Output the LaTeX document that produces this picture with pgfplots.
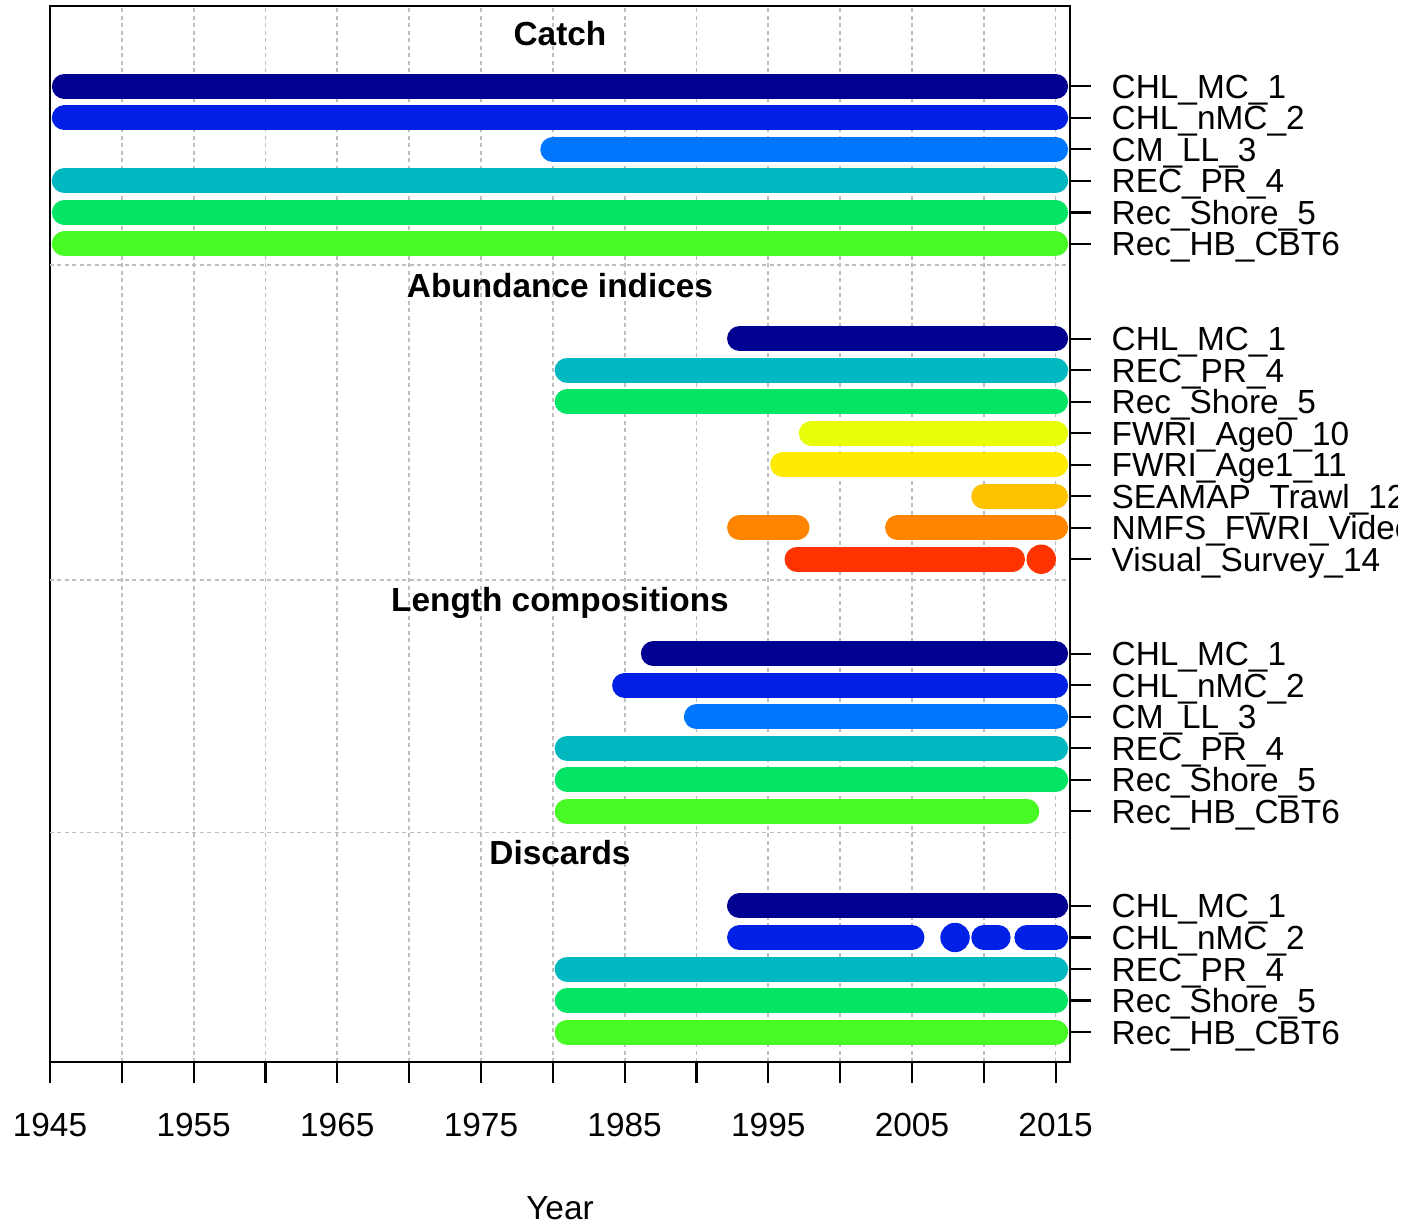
\documentclass[border=0pt]{standalone}
\usepackage{fontspec}
\setmainfont{Liberation Sans}
\usepackage{pgfplots}
\pgfplotsset{compat=1.18}

% fleet colours (rich colours)
\definecolor{c1}{RGB}{0,0,145}
\definecolor{c2}{RGB}{0,32,230}
\definecolor{c3}{RGB}{0,118,252}
\definecolor{c4}{RGB}{0,184,191}
\definecolor{c5}{RGB}{4,228,101}
\definecolor{c6}{RGB}{73,251,37}
\definecolor{c7}{RGB}{231,253,9}
\definecolor{c8}{RGB}{254,234,2}
\definecolor{c9}{RGB}{255,194,0}
\definecolor{c10}{RGB}{255,133,0}
\definecolor{c11}{RGB}{255,51,0}

\newcommand{\fs}{\fontsize{9.5}{11.4}\selectfont}

\pgfplotsset{
  seg/.style={line width=2.5mm, line cap=round},
  dot/.style={only marks, mark=*, mark size=1.4mm, mark options={draw=none}},
  sep/.style={gray!50, line width=0.5pt, dash pattern=on 0.4mm off 0.35mm},
}

\begin{document}
\begin{tikzpicture}
\begin{scope}
% the original device cuts the long labels off on the right
\clip (-5mm,-16.1mm) rectangle (134.7mm,106.2mm);
\begin{axis}[
  at={(0,0)}, anchor=south west,
  scale only axis, width=102mm, height=105.6mm,
  xmin=1945, xmax=2016, ymin=0.05, ymax=33.55,
  axis line style={line width=0.6pt},
  tick style={black, line width=0.6pt},
  major tick length=2.1mm, tick align=outside,
  xtick pos=bottom, ytick pos=right,
  xtick={1945,1950,...,2015},
  xticklabels={1945,,1955,,1965,,1975,,1985,,1995,,2005,,2015},
  ytick={1,2,3,4,5,8,9,10,11,12,13,16,17,18,19,20,21,22,23,26,27,28,29,30,31},
  yticklabels={Rec\_HB\_CBT6,Rec\_Shore\_5,REC\_PR\_4,CHL\_nMC\_2,CHL\_MC\_1,
    Rec\_HB\_CBT6,Rec\_Shore\_5,REC\_PR\_4,CM\_LL\_3,CHL\_nMC\_2,CHL\_MC\_1,
    Visual\_Survey\_14,NMFS\_FWRI\_Video\_13,SEAMAP\_Trawl\_12,FWRI\_Age1\_11,FWRI\_Age0\_10,Rec\_Shore\_5,REC\_PR\_4,CHL\_MC\_1,
    Rec\_HB\_CBT6,Rec\_Shore\_5,REC\_PR\_4,CM\_LL\_3,CHL\_nMC\_2,CHL\_MC\_1},
  yticklabel pos=right,
  xmajorgrids,
  major grid style={gray!50, line width=0.5pt, dash pattern=on 0.4mm off 0.35mm},
  font=\fs, tick label style={font=\fs},
  /pgf/number format/assume math mode=true,
  xticklabel style={anchor=north, inner sep=0pt, yshift=-2.9mm},
  yticklabel style={anchor=base west, inner sep=0pt, xshift=2.0mm, yshift=-1.2mm},
  xlabel={Year},
  xlabel style={at={(axis description cs:0.5,0)}, anchor=base, yshift=-15.7mm, font=\fs},
]
% group separators
\addplot[sep] coordinates {(1945,7.33) (2016,7.33)};
\addplot[sep] coordinates {(1945,15.33) (2016,15.33)};
\addplot[sep] coordinates {(1945,25.33) (2016,25.33)};

% Catch
\addplot[seg, c1] coordinates {(1946,31) (2015,31)};
\addplot[seg, c2] coordinates {(1946,30) (2015,30)};
\addplot[seg, c3] coordinates {(1980,29) (2015,29)};
\addplot[seg, c4] coordinates {(1946,28) (2015,28)};
\addplot[seg, c5] coordinates {(1946,27) (2015,27)};
\addplot[seg, c6] coordinates {(1946,26) (2015,26)};

% Abundance indices
\addplot[seg, c1] coordinates {(1993,23) (2015,23)};
\addplot[seg, c4] coordinates {(1981,22) (2015,22)};
\addplot[seg, c5] coordinates {(1981,21) (2015,21)};
\addplot[seg, c7] coordinates {(1998,20) (2015,20)};
\addplot[seg, c8] coordinates {(1996,19) (2015,19)};
\addplot[seg, c9] coordinates {(2010,18) (2015,18)};
\addplot[seg, c10] coordinates {(1993,17) (1997,17)};
\addplot[seg, c10] coordinates {(2004,17) (2015,17)};
\addplot[seg, c11] coordinates {(1997,16) (2012,16)};
\addplot[dot, c11] coordinates {(2014,16)};

% Length compositions
\addplot[seg, c1] coordinates {(1987,13) (2015,13)};
\addplot[seg, c2] coordinates {(1985,12) (2015,12)};
\addplot[seg, c3] coordinates {(1990,11) (2015,11)};
\addplot[seg, c4] coordinates {(1981,10) (2015,10)};
\addplot[seg, c5] coordinates {(1981,9) (2015,9)};
\addplot[seg, c6] coordinates {(1981,8) (2013,8)};

% Discards
\addplot[seg, c1] coordinates {(1993,5) (2015,5)};
\addplot[seg, c2] coordinates {(1993,4) (2005,4)};
\addplot[dot, c2] coordinates {(2008,4)};
\addplot[seg, c2] coordinates {(2010,4) (2011,4)};
\addplot[seg, c2] coordinates {(2013,4) (2015,4)};
\addplot[seg, c4] coordinates {(1981,3) (2015,3)};
\addplot[seg, c5] coordinates {(1981,2) (2015,2)};
\addplot[seg, c6] coordinates {(1981,1) (2015,1)};

% group titles
\node[font=\bfseries\fs, anchor=base] at (axis cs:1980.5,32.3) {Catch};
\node[font=\bfseries\fs, anchor=base] at (axis cs:1980.5,24.3) {Abundance indices};
\node[font=\bfseries\fs, anchor=base] at (axis cs:1980.5,14.35) {Length compositions};
\node[font=\bfseries\fs, anchor=base] at (axis cs:1980.5,6.3) {Discards};
\end{axis}
\end{scope}
\pgfresetboundingbox
\path[use as bounding box] (-5mm,-16.1mm) rectangle (136.6mm,106.2mm);
\end{tikzpicture}
\end{document}
